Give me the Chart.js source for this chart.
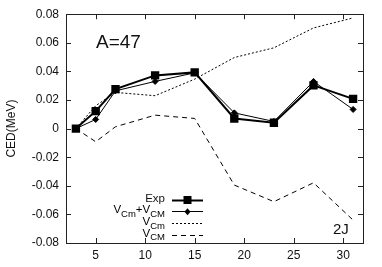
<!DOCTYPE html>
<html><head><meta charset="utf-8">
<script src="https://cdn.jsdelivr.net/npm/chart.js@4/dist/chart.umd.min.js"></script>
<style>html,body{margin:0;padding:0;background:#fff}#wrap{width:382px;height:267px}</style>
</head><body><div id="wrap"><canvas id="c" width="382" height="267"></canvas></div>
<script>
const jValues = [3, 5, 7, 11, 15, 19, 23, 27, 31];
const expValues = [0, 0.0122, 0.0276, 0.0372, 0.0393, 0.0071, 0.0041, 0.0302, 0.0208];
const sumValues = [0, 0.0064, 0.0264, 0.033, 0.039, 0.011, 0.005, 0.033, 0.0134];
const vCmValues = [0, 0.016, 0.0253, 0.023, 0.0346, 0.0497, 0.0565, 0.0704, 0.0774];
const vCMValues = [0, -0.0092, 0.0013, 0.0094, 0.0071, -0.0395, -0.0511, -0.0379, -0.064];
const xTicks = [5, 10, 15, 20, 25, 30];
const yTicks = [-0.08, -0.06, -0.04, -0.02, 0, 0.02, 0.04, 0.06, 0.08];
const legendLabels = [
  [{t:'Exp'}],
  [{t:'V'},{t:'Cm',sub:true},{t:'+V'},{t:'CM',sub:true}],
  [{t:'V'},{t:'Cm',sub:true}],
  [{t:'V'},{t:'CM',sub:true}]
];
const FONT = '"Liberation Sans", Arial, sans-serif';
const pts = arr => arr.map((v, i) => ({x: jValues[i], y: v}));

const frame = {
  id: 'frame',
  afterDraw(chart) {
    const ctx = chart.ctx, a = chart.chartArea, xs = chart.scales.x, ys = chart.scales.y;
    ctx.save();
    ctx.strokeStyle = '#222'; ctx.lineWidth = 1;
    ctx.strokeRect(Math.round(a.left) + 0.5, Math.round(a.top) + 0.5, Math.round(a.right - a.left), Math.round(a.bottom - a.top));
    ctx.beginPath();
    xTicks.forEach(v => {
      const x = Math.round(xs.getPixelForValue(v)) + 0.5;
      ctx.moveTo(x, a.bottom); ctx.lineTo(x, a.bottom - 5);
      ctx.moveTo(x, a.top); ctx.lineTo(x, a.top + 5);
    });
    yTicks.forEach(v => {
      const y = Math.round(ys.getPixelForValue(v)) + 0.5;
      ctx.moveTo(a.left, y); ctx.lineTo(a.left + 5, y);
      ctx.moveTo(a.right, y); ctx.lineTo(a.right - 5, y);
    });
    ctx.stroke();
    // y title
    ctx.fillStyle = '#111';
    ctx.font = '12px ' + FONT;
    ctx.translate(12, (a.top + a.bottom) / 2);
    ctx.rotate(-Math.PI / 2);
    ctx.textAlign = 'center'; ctx.textBaseline = 'middle';
    ctx.fillText('CED(MeV)', 0, 0);
    ctx.restore();

    ctx.save();
    ctx.fillStyle = '#111';
    ctx.font = '19px ' + FONT;
    ctx.textBaseline = 'alphabetic';
    ctx.fillText('A=47', a.left + 30, a.top + 34);
    ctx.font = '15px ' + FONT;
    ctx.fillText('2J', a.right - 30, a.bottom - 9);

    // legend
    const textRight = 165, lineL = 172, lineR = 203, rowY0 = 199.5, rowH = 11.7;
    [0, 1, 2, 3].forEach((di, r) => {
      const ds = chart.data.datasets[di];
      const y = rowY0 + r * rowH;
      const parts = legendLabels[r];
      const main = '11.5px ' + FONT, sub = '9.5px ' + FONT;
      let w = 0;
      parts.forEach(p => { ctx.font = p.sub ? sub : main; w += ctx.measureText(p.t).width; });
      let x = textRight - w;
      ctx.textBaseline = 'middle'; ctx.textAlign = 'left';
      parts.forEach(p => {
        ctx.font = p.sub ? sub : main;
        ctx.fillText(p.t, x, p.sub ? y + 3 : y - 1);
        x += ctx.measureText(p.t).width;
      });
      ctx.strokeStyle = '#000';
      ctx.lineWidth = ds.borderWidth;
      ctx.setLineDash(ds.borderDash || []);
      ctx.beginPath(); ctx.moveTo(lineL, Math.round(y) + 0.5); ctx.lineTo(lineR, Math.round(y) + 0.5); ctx.stroke();
      ctx.setLineDash([]);
      if (ds.pointRadius > 0) {
        const cx = (lineL + lineR) / 2;
        ctx.fillStyle = '#000';
        if (ds.pointStyle === 'rect') {
          ctx.fillRect(cx - 4, y - 3.5, 8, 8);
        } else {
          ctx.beginPath();
          ctx.moveTo(cx, y - 3); ctx.lineTo(cx + 3, y + 0.5); ctx.lineTo(cx, y + 4); ctx.lineTo(cx - 3, y + 0.5);
          ctx.closePath(); ctx.fill();
        }
      }
    });
    ctx.restore();
  }
};

new Chart(document.getElementById('c'), {
  type: 'scatter',
  data: {
    datasets: [
      {label: 'Exp', data: pts(expValues), showLine: true, borderColor: '#000', backgroundColor: '#000', borderWidth: 2, pointStyle: 'rect', pointRadius: 4.5, order: 0},
      {label: 'VCm+VCM', data: pts(sumValues), showLine: true, borderColor: '#000', backgroundColor: '#000', borderWidth: 1, pointStyle: 'rectRot', pointRadius: 3, order: 1},
      {label: 'VCm', data: pts(vCmValues), showLine: true, borderColor: '#000', borderWidth: 1, borderDash: [2, 2], pointRadius: 0, order: 2},
      {label: 'VCM', data: pts(vCMValues), showLine: true, borderColor: '#000', borderWidth: 1, borderDash: [5, 4], pointRadius: 0, order: 3}
    ]
  },
  options: {
    responsive: false,
    animation: false,
    events: [],
    layout: {padding: {left: 0, right: 19, top: 14, bottom: 0}},
    plugins: {legend: {display: false}, tooltip: {enabled: false}},
    scales: {
      x: {
        type: 'linear', min: 2, max: 32,
        afterBuildTicks: s => { s.ticks = xTicks.map(v => ({value: v})); },
        afterFit: s => { s.height = 24; },
        grid: {display: false, drawTicks: false},
        border: {display: false},
        ticks: {color: '#111', font: {family: FONT, size: 12}, padding: 5, maxRotation: 0, callback: v => String(v)}
      },
      y: {
        type: 'linear', min: -0.08, max: 0.08,
        afterBuildTicks: s => { s.ticks = yTicks.map(v => ({value: v})); },
        afterFit: s => { s.width = 66; },
        grid: {display: false, drawTicks: false},
        border: {display: false},
        ticks: {color: '#111', font: {family: FONT, size: 12}, padding: 7, callback: v => String(Math.round(v * 100) / 100)}
      }
    }
  },
  plugins: [frame]
});
</script>
</body></html>
